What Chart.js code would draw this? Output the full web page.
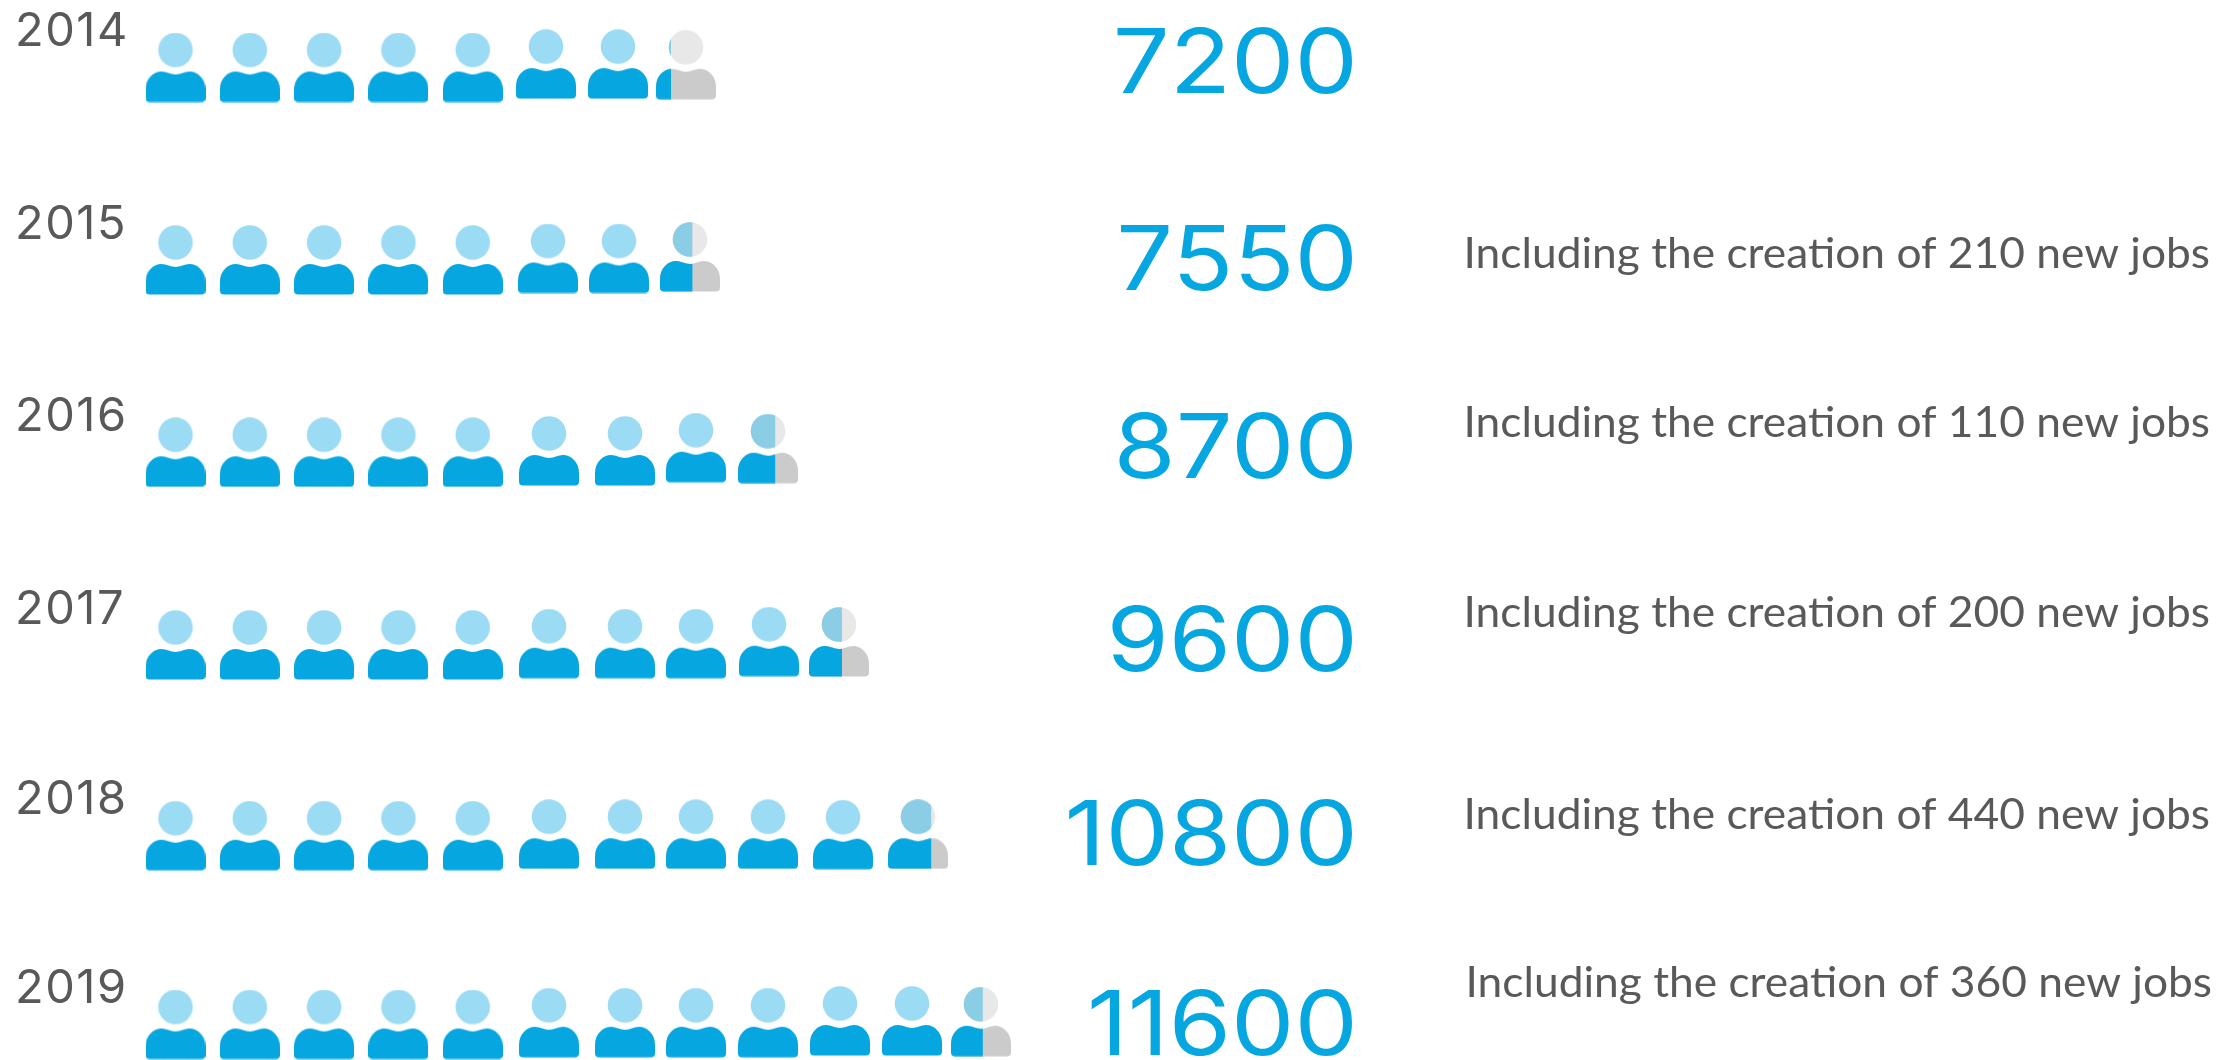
<!DOCTYPE html>
<html>
<head>
<meta charset="utf-8">
<title>Headcount 2014-2019</title>
<script src="https://cdn.jsdelivr.net/npm/chart.js@4"></script>
<style>
  html, body { margin: 0; padding: 0; background: #fff; }
  canvas { display: block; }
</style>
</head>
<body>
<canvas id="headcountChart" width="2238" height="1060"></canvas>
<script>
// ---------- Data ----------
const years = ['2014', '2015', '2016', '2017', '2018', '2019'];
const headcount = [7200, 7550, 8700, 9600, 10800, 11600];
const newJobs = [null, 210, 110, 200, 440, 360];
// how much of the last person is coloured
const lastIconFill = [0.25, 0.54, 0.62, 0.55, 0.72, 0.53];
const peoplePerIcon = 1000;

// ---------- Layout (px) ----------
const slotPx = 74.3, rowPx = 191.4;
const firstSlotX = 175.5, firstRowY = 67.5;
const rowShift = [0, 1.1, 2, 3.3, 2.6, 0];
// the icons in the source were placed by hand, so they wander a bit
const driftX = [
  [0, 0, 0, 0, 0, -1, -3.3, -9.6],
  [0, 0, 0, 0, 0, 1, -2.3, -5.6],
  [0, 0, 0, 0, 0, 2, 3.7, 0.4, -1.9],
  [0, 0, 0, 0, 0, 2, 3.7, 0.4, -0.9, -5.2],
  [0, 0, 0, 0, 0, 2, 3.7, 0.4, -1.9, -1.2, -0.5],
  [0, 0, 0, 0, 0, 2, 3.7, 0.4, -1.9, -4.2, -6.5, -11.8]
];
const lift = [
  [0, 0, 0, 0, 0, 3.4, 3.4, 2.7],
  [0, 0, 0, 0, 0, 1.5, 1.5, 3],
  [0, 0, 0, 0, 0, 1.3, 1.3, 4.6, 3.6],
  [0, 0, 0, 0, 0, 1.3, 1.3, 1.3, 3.3, 3],
  [0, 0, 0, 0, 0, 1.5, 1.5, 1.5, 1.5, 1, 1.5],
  [0, 0, 0, 0, 0, 1.7, 1.7, 1.7, 1.7, 3.5, 3.5, 2.7]
];
const numberRight = 1358;
const numberBase = [92.7, 290, 478, 670.5, 865, 1054.7];
const noteRight = [0, 2210, 2210, 2210, 2210, 2212];
const noteBase = [0, 268.3, 436.7, 626.7, 829, 996.7];

const toSlot = px => (px - firstSlotX) / slotPx;
const toRow = px => (px - firstRowY) / rowPx;

// ---------- Icons ----------
function personPath(ctx, part) {
  ctx.beginPath();
  if (part === 'head') {
    ctx.arc(30, 17.5, 17.3, 0, Math.PI * 2);
    return;
  }
  const t = 39, b = 69.5;
  ctx.moveTo(4, b);
  ctx.quadraticCurveTo(0, b, 0, b - 4);
  ctx.lineTo(0, t + 18);
  ctx.bezierCurveTo(0, t + 7, 8, t, 16, t);
  ctx.bezierCurveTo(21, t, 25, t + 3, 30, t + 3);
  ctx.bezierCurveTo(35, t + 3, 39, t, 44, t);
  ctx.bezierCurveTo(52, t, 60, t + 7, 60, t + 18);
  ctx.lineTo(60, b - 4);
  ctx.quadraticCurveTo(60, b, 56, b);
  ctx.closePath();
}

function makeIcon(share) {
  const c = document.createElement('canvas');
  c.width = 60;
  c.height = 70;
  const ctx = c.getContext('2d');
  const paint = (head, body) => {
    personPath(ctx, 'head');
    ctx.fillStyle = head;
    ctx.fill();
    personPath(ctx, 'body');
    ctx.fillStyle = body;
    ctx.fill();
  };
  if (share >= 1) {
    paint('#9cdbf4', '#06a7e0');
    return c;
  }
  paint('#e8e8e8', '#cbcbcb');
  ctx.save();
  ctx.beginPath();
  ctx.rect(0, 0, 60 * share, 70);
  ctx.clip();
  paint('#8bcde4', '#06a7e0');
  ctx.restore();
  return c;
}

const fullIcon = makeIcon(1);
const lastIcons = lastIconFill.map(makeIcon);

// ---------- Labels ----------
// no font here has the source's proportions, so widen the text a little
function stretchedText(ctx, text, x, y, stretch) {
  ctx.save();
  ctx.translate(x, y);
  ctx.scale(stretch, 1);
  ctx.fillText(text, 0, 0);
  ctx.restore();
}

const labelPlugin = {
  id: 'rowLabels',
  beforeDraw(chart) {
    chart.ctx.letterSpacing = '1.5px'; // year ticks
  },
  beforeDatasetsDraw(chart) {
    chart.ctx.letterSpacing = '0px';
  },
  afterDatasetsDraw(chart) {
    const { ctx, scales } = chart;
    ctx.save();
    ctx.textAlign = 'right';
    ctx.textBaseline = 'alphabetic';
    headcount.forEach((v, i) => {
      ctx.font = '400 89px Inter';
      ctx.fillStyle = '#06a7e0';
      stretchedText(ctx, String(v), scales.x.getPixelForValue(toSlot(numberRight)), scales.y.getPixelForValue(toRow(numberBase[i])), 1.13);
      if (newJobs[i] === null) return;
      ctx.font = '43px Lato';
      ctx.fillStyle = '#595959';
      stretchedText(ctx, `Including the creation of ${newJobs[i]} new jobs`, scales.x.getPixelForValue(toSlot(noteRight[i])), scales.y.getPixelForValue(toRow(noteBase[i])), 1.03);
    });
    ctx.restore();
  }
};

// ---------- Chart ----------
const datasets = headcount.map((v, row) => {
  const count = Math.ceil(v / peoplePerIcon);
  const points = [];
  for (let i = 0; i < count; i++) {
    points.push({
      x: i + driftX[row][i] / slotPx,
      y: row + (rowShift[row] - lift[row][i]) / rowPx
    });
  }
  return {
    label: years[row],
    data: points,
    showLine: false,
    clip: false,
    pointStyle: ctx => (ctx.dataIndex === count - 1 ? lastIcons[row] : fullIcon)
  };
});

new Chart(document.getElementById('headcountChart'), {
  type: 'scatter',
  data: { datasets },
  plugins: [labelPlugin],
  options: {
    responsive: false,
    animation: false,
    events: [],
    layout: { padding: 0, autoPadding: false },
    plugins: { legend: { display: false }, tooltip: { enabled: false }, title: { display: false } },
    scales: {
      x: {
        display: false,
        min: toSlot(0),
        max: toSlot(2238)
      },
      y: {
        reverse: true,
        min: toRow(0),
        max: toRow(1060),
        grid: { display: false, drawTicks: false },
        border: { display: false },
        afterBuildTicks: axis => {
          axis.ticks = years.map((_, i) => ({ value: i + rowShift[i] / rowPx }));
        },
        // labels sit inside the plot, the axis should not take any room
        afterFit: axis => {
          axis.width = 0;
          axis.paddingTop = 0;
          axis.paddingBottom = 0;
        },
        ticks: {
          mirror: true,
          padding: 15,
          labelOffset: -35.5,
          autoSkip: false,
          color: '#595959',
          font: { family: 'Inter', size: 47, weight: 400 },
          callback: (value, i) => years[i]
        }
      }
    }
  }
});
</script>
</body>
</html>
